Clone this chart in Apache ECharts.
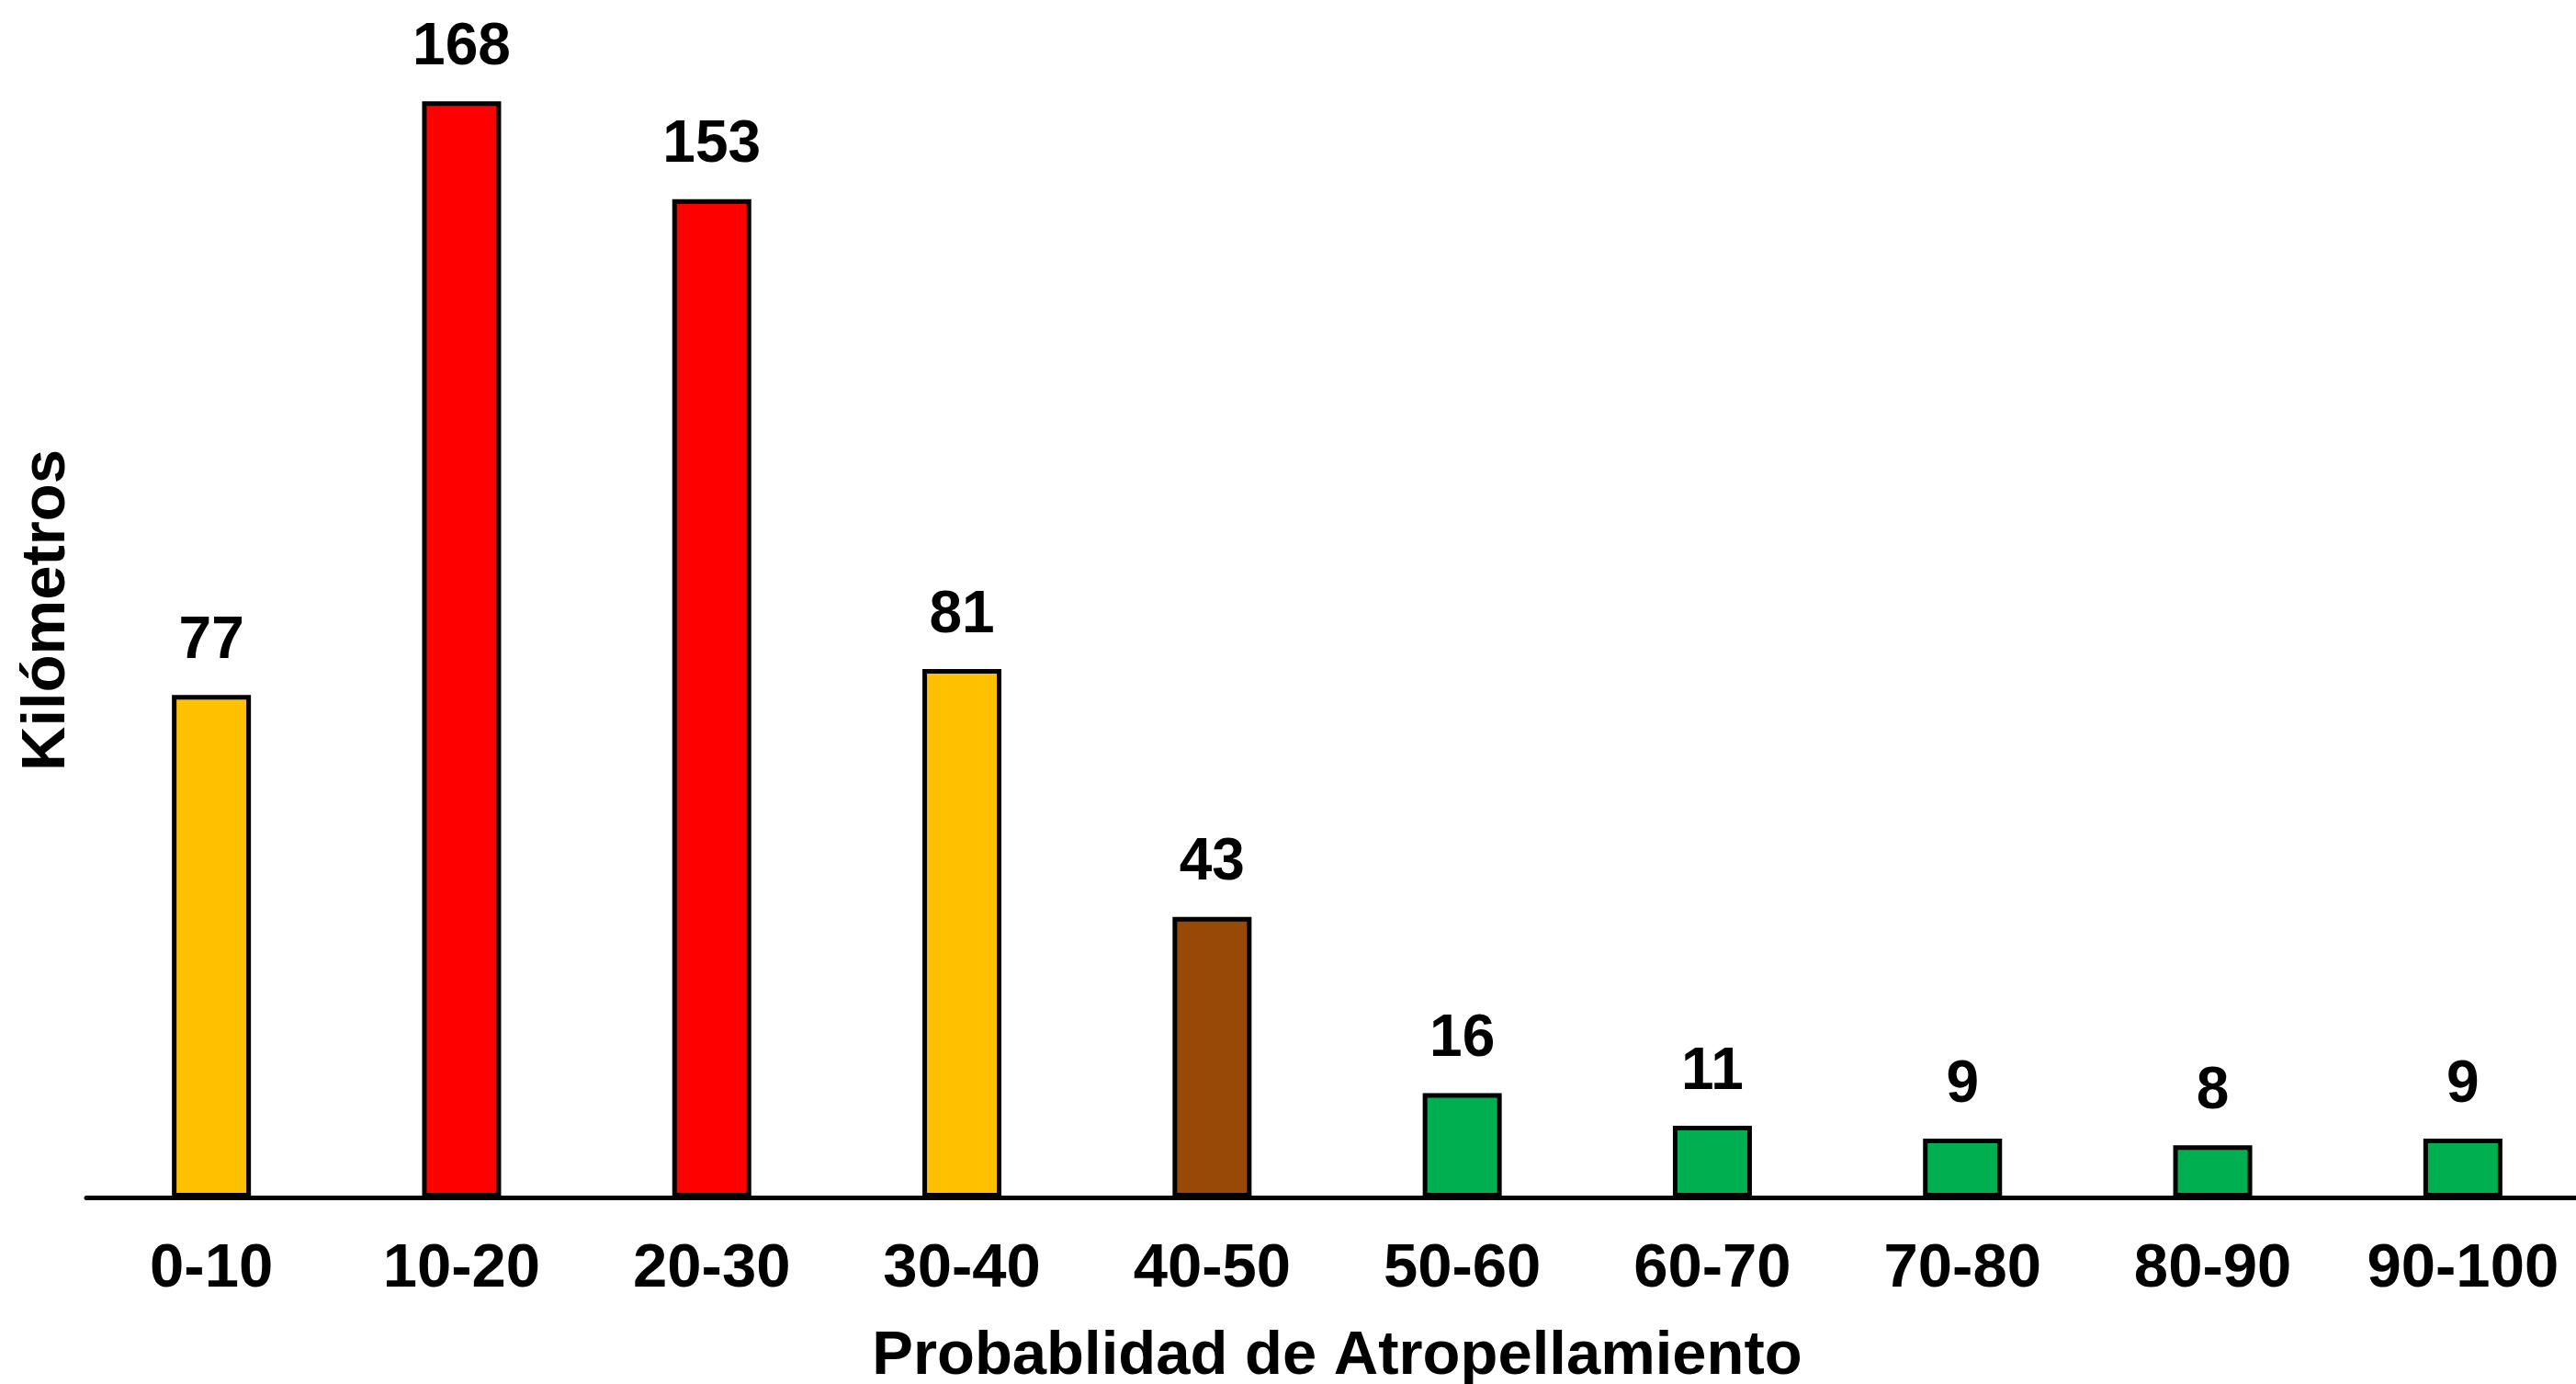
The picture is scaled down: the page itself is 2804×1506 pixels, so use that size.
<!DOCTYPE html>
<html>
<head>
<meta charset="utf-8">
<script src="https://cdn.jsdelivr.net/npm/echarts@6/dist/echarts.min.js"></script>
<style>
html,body{margin:0;padding:0;background:#fff;}
#chart{width:2804px;height:1506px;}
</style>
</head>
<body>
<div id="chart"></div>
<script>
var categories = ['0-10','10-20','20-30','30-40','40-50','50-60','60-70','70-80','80-90','90-100'];
var values = [77,168,153,81,43,16,11,9,8,9];
var barColors = ['#FFC000','#FF0000','#FF0000','#FFC000','#984807','#00B050','#00B050','#00B050','#00B050','#00B050'];
var xTitle = 'Probablidad de Atropellamiento';
var yTitle = 'Kilómetros';

var FONT = '"Liberation Sans", Arial, sans-serif';
var chart = echarts.init(document.getElementById('chart'));
chart.setOption({
  animation: false,
  backgroundColor: '#ffffff',
  grid: {left: 94, top: 25, width: 2723, height: 1278, containLabel: false, outerBoundsMode: 'none'},
  xAxis: {
    type: 'category',
    data: categories,
    boundaryGap: true,
    axisLine: {show: true, lineStyle: {color: '#000', width: 5}},
    axisTick: {show: false},
    axisLabel: {color: '#000', fontFamily: FONT, fontWeight: 'bold', fontSize: 67, margin: 45},
    name: xTitle,
    nameLocation: 'middle',
    nameGap: 140,
    nameTextStyle: {color: '#000', fontFamily: FONT, fontWeight: 'bold', fontSize: 67}
  },
  yAxis: {
    type: 'value',
    min: 0,
    max: 180,
    axisLine: {show: false},
    axisTick: {show: false},
    axisLabel: {show: false},
    splitLine: {show: false},
    name: yTitle,
    nameLocation: 'middle',
    nameGap: 9,
    nameTextStyle: {color: '#000', fontFamily: FONT, fontWeight: 'bold', fontSize: 67}
  },
  series: [{
    type: 'bar',
    barWidth: 86,
    data: values.map(function(v, i){
      return {value: v, itemStyle: {color: barColors[i]}};
    }),
    itemStyle: {borderColor: '#000', borderWidth: 5},
    label: {
      show: true,
      position: 'top',
      distance: 26,
      color: '#000',
      fontFamily: FONT,
      fontWeight: 'bold',
      fontSize: 64
    }
  }]
});
</script>
</body>
</html>
